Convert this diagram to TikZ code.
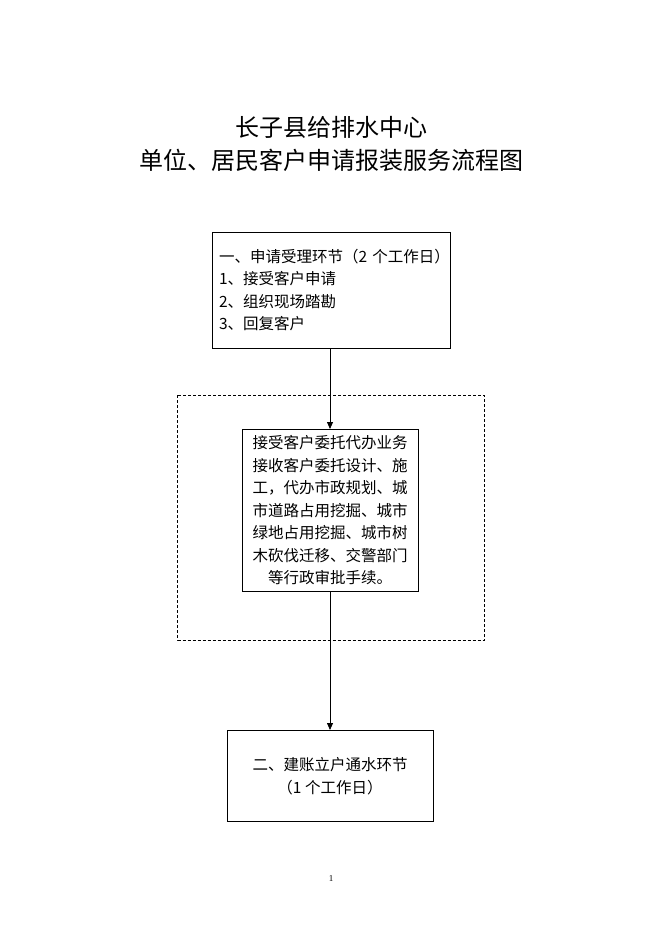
\documentclass[tikz,border=0pt]{standalone}
\usepackage{fontspec}
\setmainfont{Liberation Serif}
\newfontfamily\cjk{Noto Sans CJK SC}
\usetikzlibrary{arrows.meta}
\tikzset{
  box/.style={draw, line width=1pt, inner sep=0pt, font=\cjk\fontsize{15.5}{22.5}\selectfont},
  arr/.style={line width=0.8pt, -{Triangle[width=6pt,length=7pt]}},
  dashbox/.style={draw, line width=0.8pt, dash pattern=on 3pt off 2pt}
}
\begin{document}
\begin{tikzpicture}[x=1pt,y=-1pt]
\useasboundingbox (0,0) rectangle (662,936);
\fill[white] (0,0) rectangle (662,936);
\node[font=\cjk\fontsize{24}{33}\selectfont, align=center] (title) at (331,143.5)
  {长子县给排水中心\\单位、居民客户申请报装服务流程图};
% dashed frame
\draw[dashbox] (177.5,395) rectangle (484,640);
% box 1
\node[box, minimum width=238, minimum height=116, text width=224, align=left] (b1) at (331,290)
  {\mbox{一、申请受理环节（2~个工作日）}\\1、接受客户申请\\2、组织现场踏勘\\3、回复客户};
% box 2
\node[box, minimum width=176, minimum height=162, align=center] (b2) at (330,510.5)
  {接受客户委托代办业务\\接收客户委托设计、施\\工，代办市政规划、城\\市道路占用挖掘、城市\\绿地占用挖掘、城市树\\木砍伐迁移、交警部门\\等行政审批手续。};
% box 3
\node[box, minimum width=206, minimum height=91, align=center] (b3) at (330,776)
  {二、建账立户通水环节\\（1~个工作日）};
\draw[arr] (b1.south -| b2.north) -- (b2.north);
\draw[arr] (b2.south) -- (b3.north);
\node[font=\fontsize{9}{10}\selectfont] (pg) at (331,879) {1};
\end{tikzpicture}
\end{document}
